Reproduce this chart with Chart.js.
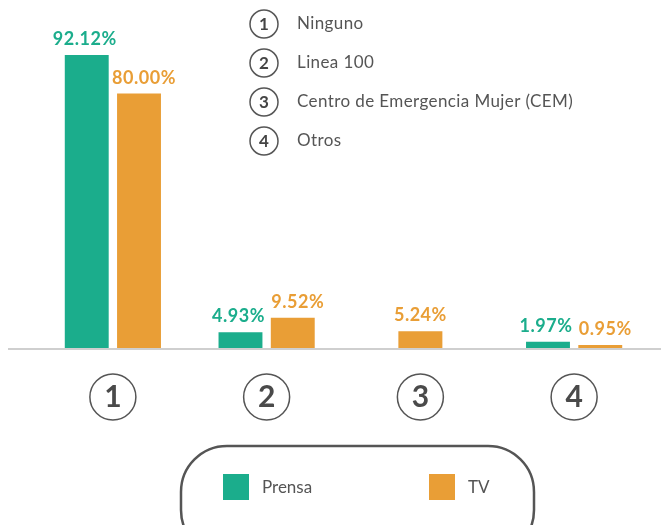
<!DOCTYPE html>
<html>
<head>
<meta charset="utf-8">
<script src="https://cdn.jsdelivr.net/npm/chart.js@4.4.1/dist/chart.umd.min.js"></script>
<style>
html, body { margin: 0; padding: 0; background: #fff; }
</style>
</head>
<body>
<canvas id="chart" width="661" height="525"></canvas>
<script>
// categories shown as circled numbers, names listed top right
var categories = ['1', '2', '3', '4'];
var categoryNames = ['Ninguno', 'Linea 100', 'Centro de Emergencia Mujer (CEM)', 'Otros'];

// percentages per series (null = no bar)
var prensa = [92.12, 4.93, null, 1.97];
var tv = [80.00, 9.52, 5.24, 0.95];

var seriesNames = ['Prensa', 'TV'];
var seriesColors = ['#1BAD8C', '#E99E36'];

var textGrey = '#555555';
Chart.defaults.font.family = 'Lato';

// grey baseline under the bars
var baseline = {
	id: 'baseline',
	afterDatasetsDraw: function (chart) {
		var ctx = chart.ctx;
		var y = chart.scales.y.getPixelForValue(0) + 1;
		ctx.save();
		ctx.strokeStyle = '#cfcfcf';
		ctx.lineWidth = 2;
		ctx.beginPath();
		ctx.moveTo(8, y);
		ctx.lineTo(chart.width, y);
		ctx.stroke();
		ctx.restore();
	}
};

// percentage above each bar, pushed apart a bit when two bars share a category
var valueLabels = {
	id: 'valueLabels',
	afterDatasetsDraw: function (chart) {
		var ctx = chart.ctx;
		ctx.save();
		ctx.font = 'bold 18px Lato';
		ctx.letterSpacing = '0.5px';
		ctx.textAlign = 'center';
		ctx.textBaseline = 'alphabetic';
		chart.data.datasets.forEach(function (ds, di) {
			var meta = chart.getDatasetMeta(di);
			meta.data.forEach(function (bar, i) {
				var v = ds.data[i];
				if (v === null) return;
				var paired = prensa[i] !== null && tv[i] !== null;
				var shift = paired ? (di === 0 ? -2 : 5) : 0;
				ctx.fillStyle = ds.backgroundColor;
				ctx.fillText(v.toFixed(2) + '%', bar.x + shift, bar.y - 10);
			});
		});
		ctx.restore();
	}
};

// circles round the x tick numbers
var tickCircles = {
	id: 'tickCircles',
	afterDraw: function (chart) {
		var ctx = chart.ctx;
		var xs = chart.scales.x;
		var cy = chart.scales.y.getPixelForValue(0) + 49;
		ctx.save();
		ctx.strokeStyle = textGrey;
		ctx.lineWidth = 1.5;
		categories.forEach(function (c, i) {
			ctx.beginPath();
			ctx.arc(xs.getPixelForValue(i), cy, 23, 0, Math.PI * 2);
			ctx.stroke();
		});
		ctx.restore();
	}
};

// key list top right
var keyList = {
	id: 'keyList',
	afterDraw: function (chart) {
		var ctx = chart.ctx;
		ctx.save();
		categoryNames.forEach(function (name, i) {
			var cy = 24 + i * 39;
			ctx.strokeStyle = textGrey;
			ctx.lineWidth = 1.5;
			ctx.beginPath();
			ctx.arc(264, cy, 14, 0, Math.PI * 2);
			ctx.stroke();
			ctx.fillStyle = '#444';
			ctx.font = 'bold 17px Lato';
			ctx.textAlign = 'center';
			ctx.textBaseline = 'middle';
			ctx.fillText(categories[i], 264, cy + 1);
			ctx.fillStyle = textGrey;
			ctx.font = '17px Lato';
			ctx.letterSpacing = '0.4px';
			ctx.textAlign = 'left';
			ctx.fillText(name, 297, cy);
			ctx.letterSpacing = '0px';
		});
		ctx.restore();
	}
};

// pill shaped legend at the bottom
var pillLegend = {
	id: 'pillLegend',
	afterDraw: function (chart) {
		var ctx = chart.ctx;
		ctx.save();
		ctx.strokeStyle = textGrey;
		ctx.lineWidth = 2.5;
		ctx.beginPath();
		ctx.roundRect(181, 446, 353, 110, 46);
		ctx.stroke();
		var xs = [223, 429];
		chart.data.datasets.forEach(function (ds, i) {
			ctx.fillStyle = ds.backgroundColor;
			ctx.fillRect(xs[i], 474, 26, 26);
			ctx.fillStyle = textGrey;
			ctx.font = '17px Lato';
			ctx.textAlign = 'left';
			ctx.textBaseline = 'middle';
			ctx.fillText(ds.label, xs[i] + 39, 488);
		});
		ctx.restore();
	}
};

var ctx = document.getElementById('chart').getContext('2d');
var chart = new Chart(ctx, {
	type: 'bar',
	data: {
		labels: categories,
		datasets: [
			{ label: seriesNames[0], data: prensa, backgroundColor: seriesColors[0] },
			{ label: seriesNames[1], data: tv, backgroundColor: seriesColors[1] }
		]
	},
	options: {
		responsive: false,
		animation: false,
		layout: { padding: { left: 36, right: 10, top: 30, bottom: 79 } },
		datasets: {
			bar: {
				skipNull: true,
				categoryPercentage: 0.68,
				barPercentage: 0.84,
				maxBarThickness: 44
			}
		},
		scales: {
			x: {
				grid: { display: false, drawTicks: false },
				border: { display: false },
				ticks: {
					padding: 31,
					color: '#4a4a4a',
					font: { size: 30, weight: 'bold' }
				}
			},
			y: { display: false, min: 0, max: 100 }
		},
		plugins: {
			legend: { display: false },
			tooltip: { enabled: false }
		}
	},
	plugins: [baseline, valueLabels, tickCircles, keyList, pillLegend]
});
</script>
</body>
</html>
